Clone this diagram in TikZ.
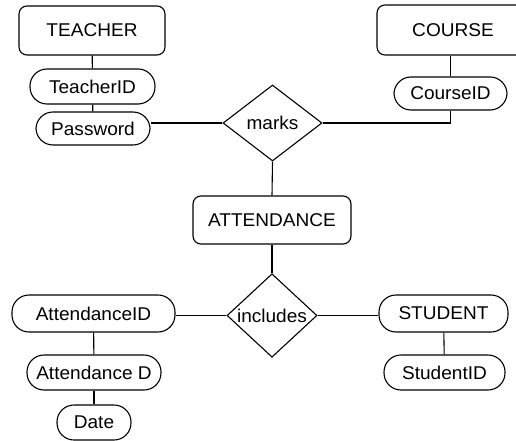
\documentclass[tikz,border=0pt]{standalone}
\usepackage{fontspec}
\setmainfont[FakeStretch=1.03]{Liberation Sans}
\usetikzlibrary{shapes.geometric}
\begin{document}
\begin{tikzpicture}[x=1pt,y=-1pt,
  every node/.style={font=\fontsize{18.5}{21}\selectfont, inner sep=0pt, line width=1.1pt},
  entbox/.style={draw, rectangle, rounded corners=8pt},
  attr/.style={draw, rectangle, rounded corners=17pt, minimum height=34pt},
  rel/.style={draw, diamond},
  conn/.style={line width=1.1pt}]
\useasboundingbox (0,0) rectangle (516,441);
\node[entbox, minimum width=146pt, minimum height=49pt] (teacher) at (92,30.5) {TEACHER};
\node[entbox, minimum width=152pt, minimum height=50pt] (course) at (453,30) {COURSE};
\node[attr, minimum width=125pt, minimum height=35pt] (teacherid) at (92.5,86.5) {TeacherID};
\node[attr, minimum width=114pt, minimum height=33pt] (password) at (93,128.5) {Password};
\node[attr, minimum width=113pt, minimum height=33pt] (courseid) at (450.5,93.5) {CourseID};
\node[rel, minimum width=99pt, minimum height=76pt] (marks) at (272.5,123) {marks};
\node[entbox, minimum width=158pt, minimum height=48pt] (attendance) at (272,220) {ATTENDANCE};
\node[rel, minimum width=90pt, minimum height=67pt] (includes) at (272,315.5) {includes};
\node[attr, minimum width=163pt, minimum height=37pt] (attid) at (93.5,313.5) {AttendanceID};
\node[attr, minimum width=134pt, minimum height=35pt] (attd) at (94,372.5) {Attendance D};
\node[attr, minimum width=74pt, minimum height=35pt] (date) at (94,422.5) {Date};
\node[attr, minimum width=129pt, minimum height=37pt] (student) at (443.5,313.5) {STUDENT};
\node[attr, minimum width=121pt, minimum height=35pt] (studentid) at (444.5,372.5) {StudentID};
\coordinate (pwend) at (marks.west -| password.east);
\coordinate (ctop) at (course.south -| courseid.north);
\draw[conn] (teacher) -- (teacherid);
\draw[conn] (teacherid) -- (password);
\draw[conn] (marks.west) -- (pwend);
\draw[conn] (ctop) -- (courseid.north);
\draw[conn] (courseid.south) |- (marks.east);
\draw[conn] (marks.south) -- (attendance.north);
\draw[conn] (attendance.south) -- (includes.north);
\draw[conn] (includes.west) -- (includes.west -| attid.east);
\draw[conn] (includes.east) -- (includes.east -| student.west);
\draw[conn] (attid) -- (attd);
\draw[conn] (attd) -- (date);
\draw[conn] (student) -- (studentid);
\end{tikzpicture}
\end{document}
